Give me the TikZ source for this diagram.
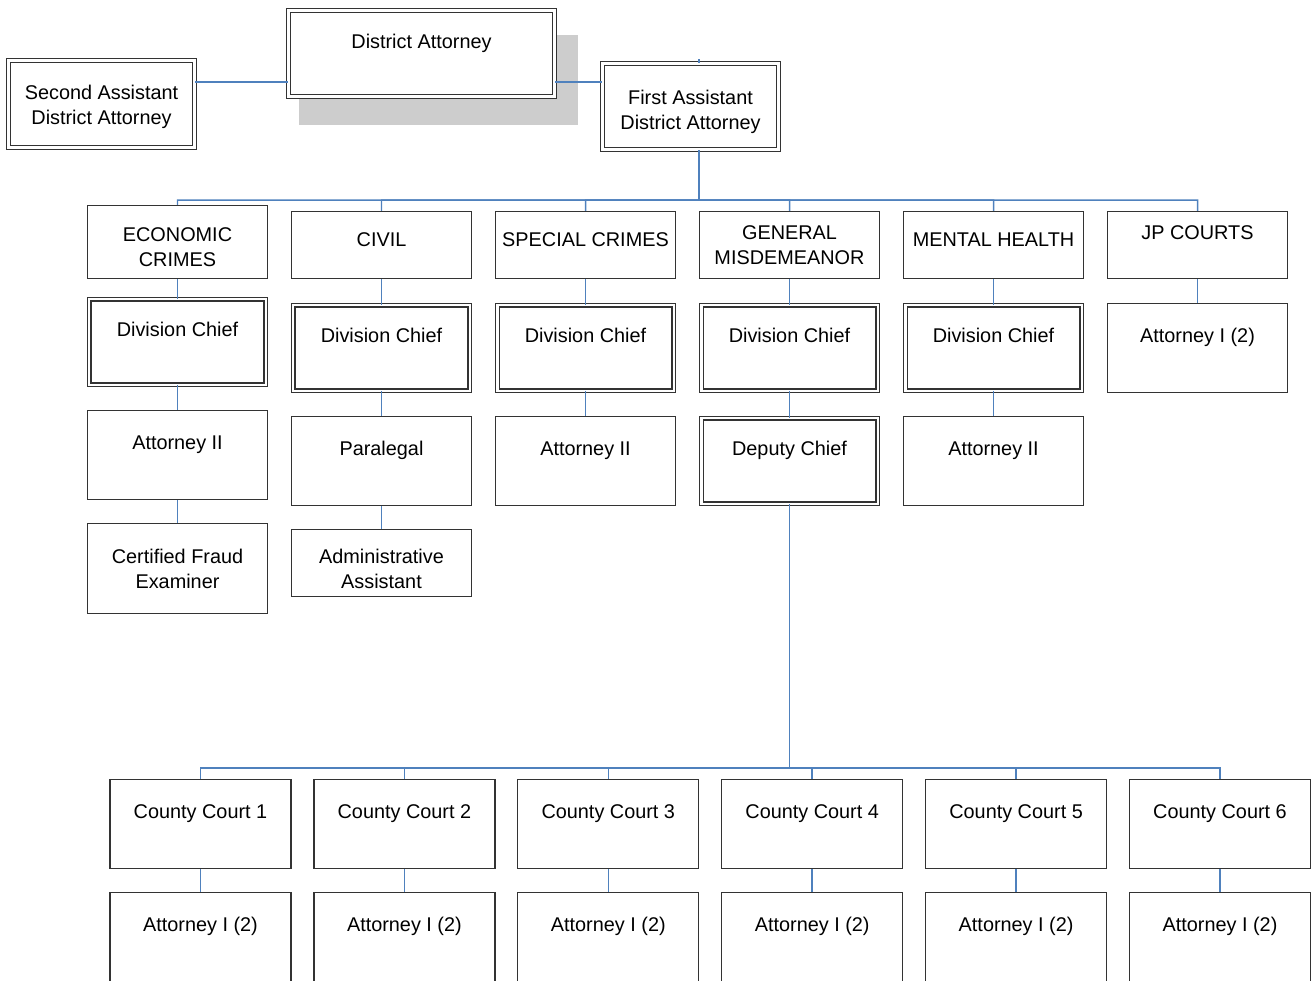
\documentclass[tikz,border=0pt]{standalone}
\usepackage{fontspec}
\setmainfont{Liberation Sans}
\usepackage{tikz}
\usetikzlibrary{
  shadows   % 检察官方框的灰色投影
}

\definecolor{linkblue}{RGB}{79,129,189}
\definecolor{shadowgray}{RGB}{205,205,205}

\tikzset{
  box/.style={draw=black!80, line width=0.7pt, fill=white, align=center,
    font=\fontsize{11.3}{14.2}\selectfont, inner sep=0pt,
    minimum width=3.6cm, minimum height=1.78cm},
  dbox/.style={box, double, double distance=1.4pt, line width=0.6pt,
    minimum width=3.53cm, minimum height=1.71cm},
  uptext/.style={text depth=0.2cm},
  lowtext/.style={text height=#1},
  link/.style={draw=linkblue, line width=0.85pt},
  toplink/.style={draw=linkblue, line width=1.5pt}
}

\begin{document}
\begin{tikzpicture}[x=0.02cm, y=-0.02cm]
  % 画布大小（按像素单位，y 轴向下）
  \useasboundingbox (0,0) rectangle (1313,981);
  \def\rowA{245}
  \def\rowB{348}
  \def\rowC{461}

  % 1. 顶层：检察官及两位助理
  \node[dbox, minimum width=5.32cm, minimum height=1.72cm,
        general shadow={fill=shadowgray, shadow scale=1.05,
                        shadow xshift=0.32cm, shadow yshift=-0.5cm}]
        (da) at (421.5,53.5) {District Attorney\\~};
  \node[dbox, minimum width=3.72cm, minimum height=1.74cm, lowtext=0.89cm]
        (sada) at (101.5,104) {Second Assistant\\District Attorney};
  \node[dbox, minimum width=3.52cm, minimum height=1.72cm, lowtext=1.01cm]
        (fada) at (690.5,106.5) {First Assistant\\District Attorney};

  \coordinate (lvl) at (0,82);
  \draw[toplink] (sada.east |- lvl) -- (da.west |- lvl);
  \draw[toplink] (da.east |- lvl) -- (fada.west |- lvl);
  \draw[link] (fada.north) ++(8.5,0) -- ++(0,-4);

  % 2. 各部门（第一排）
  \node[box, minimum height=1.46cm, lowtext=1.0cm] (econ) at (177.5,242) {ECONOMIC\\CRIMES};
  \node[box, minimum height=1.34cm, uptext] (civil) at (381.5,\rowA) {CIVIL};
  \node[box, minimum height=1.34cm, uptext] (spec) at (585.5,\rowA) {SPECIAL CRIMES};
  \node[box, minimum height=1.34cm] (gm) at (789.5,\rowA) {GENERAL\\MISDEMEANOR};
  \node[box, minimum height=1.34cm, uptext] (mh) at (993.5,\rowA) {MENTAL HEALTH};
  \node[box, minimum height=1.34cm] (jp) at (1197.5,\rowA) {JP COURTS\\~};

  % 总线：第一助理 -> 各部门
  \coordinate (bus1) at (699,200);
  \foreach \d in {econ,civil,spec,gm,mh,jp}
    \draw[link] (fada.south) ++(8.5,0) -- (bus1) -| (\d.north);

  % 3. 各部门下属
  % 经济犯罪
  \node[dbox] (ecdc) at (177.5,342) {Division Chief\\~};
  \node[box] (ecatt) at (177.5,455) {Attorney II\\~};
  \node[box, minimum height=1.8cm] (ecfe) at (177.5,568.5) {Certified Fraud\\Examiner};
  \draw[link] (econ.south) -- (ecdc.north);
  \draw[link] (ecdc.south) -- (ecatt.north);
  \draw[link] (ecatt.south) -- (ecfe.north);

  % 民事
  \node[dbox] (cvdc) at (381.5,\rowB) {Division Chief\\~};
  \node[box] (cvpara) at (381.5,\rowC) {Paralegal\\~};
  \node[box, minimum height=1.34cm, lowtext=1.04cm] (cvadm) at (381.5,563) {Administrative\\Assistant};
  \draw[link] (civil.south) -- (cvdc.north);
  \draw[link] (cvdc.south) -- (cvpara.north);
  \draw[link] (cvpara.south) -- (cvadm.north);

  % 特别犯罪
  \node[dbox] (spdc) at (585.5,\rowB) {Division Chief\\~};
  \node[box] (spatt) at (585.5,\rowC) {Attorney II\\~};
  \draw[link] (spec.south) -- (spdc.north);
  \draw[link] (spdc.south) -- (spatt.north);

  % 一般轻罪
  \node[dbox] (gmdc) at (789.5,\rowB) {Division Chief\\~};
  \node[dbox] (gmdep) at (789.5,\rowC) {Deputy Chief\\~};
  \draw[link] (gm.south) -- (gmdc.north);
  \draw[link] (gmdc.south) -- (gmdep.north);

  % 精神卫生
  \node[dbox] (mhdc) at (993.5,\rowB) {Division Chief\\~};
  \node[box] (mhatt) at (993.5,\rowC) {Attorney II\\~};
  \draw[link] (mh.south) -- (mhdc.north);
  \draw[link] (mhdc.south) -- (mhatt.north);

  % 治安法庭
  \node[box] (jpatt) at (1197.5,\rowB) {Attorney I (2)\\~};
  \draw[link] (jp.south) -- (jpatt.north);

  % 4. 县法院（副主任之下）
  \coordinate (bus2) at (789.5,768);
  \foreach \i in {1,...,6}{
    \pgfmathsetmacro\cx{200.5+(\i-1)*203.9}
    \node[box, minimum width=3.62cm] (cc\i) at (\cx,824) {County Court \i\\~};
    \node[box, minimum width=3.62cm] (ca\i) at (\cx,937) {Attorney I (2)\\~};
    \draw[link] (gmdep.south) -- (bus2) -| (cc\i.north);
    \draw[link] (cc\i.south) -- (ca\i.north);
  }
\end{tikzpicture}
\end{document}
